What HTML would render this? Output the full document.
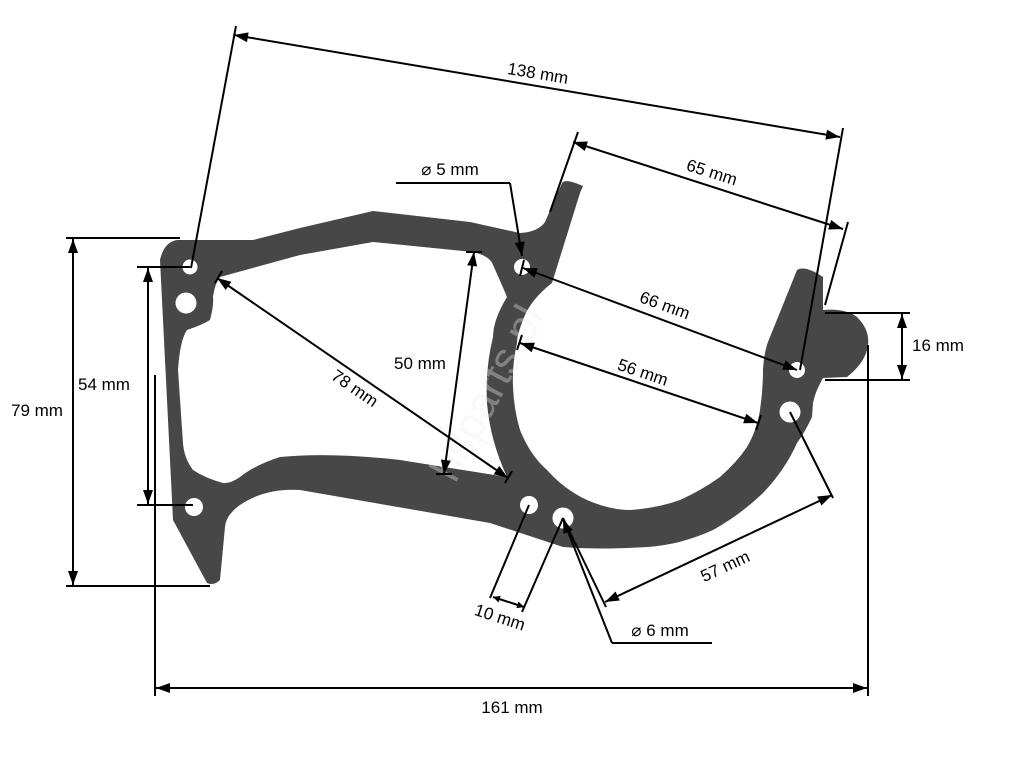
<!DOCTYPE html>
<html><head><meta charset="utf-8"><style>
html,body{margin:0;padding:0;background:#fff;}
svg{display:block;}
text{font-family:"Liberation Sans",sans-serif;font-size:17px;fill:#000;}
</style></head><body>
<svg width="1024" height="768" viewBox="0 0 1024 768" xmlns="http://www.w3.org/2000/svg">
<defs>
<marker id="a" viewBox="0 0 10 10" refX="10" refY="5" markerWidth="7" markerHeight="7" orient="auto-start-reverse" markerUnits="userSpaceOnUse">
<path d="M0,0 L10,5 L0,10 z" fill="#000"/></marker>
<marker id="b" viewBox="0 0 14 10" refX="14" refY="5" markerWidth="16" markerHeight="10" orient="auto-start-reverse" markerUnits="userSpaceOnUse">
<path d="M0,0 L14,5 L0,10 z" fill="#000"/></marker>
</defs>
<path fill="#474747" fill-rule="evenodd" d="
M177,240 L253,240 L300,228 L373,211 L470,222 L520,233 Q538,232 545,222 L562,183 Q565,178 583,186 L580,193 L552,283
Q530,300 523,320 Q517,335 517,343 Q512,365 513,387 Q514,410 520,430 Q530,455 547,470 Q565,490 587,500 Q610,510 630,510 Q658,508 680,500 Q702,490 720,477 Q737,462 747,447 Q757,430 760,410 Q763,390 763,370 Q764,350 770,337 L797,270 Q805,265 823,277 L823,310 Q845,308 857,317 Q870,330 868,345 Q866,362 847,377 L823,378 Q815,392 813,403 L812,417 Q805,432 797,443 Q785,470 763,493 Q740,515 713,530 Q680,545 647,547 Q600,550 563,547 L490,523 L300,490 Q265,488 240,505 Q226,515 225,527 L220,580 Q214,586 207,583 L173,520 L160,260 Q164,242 177,240 Z
M220,277 L300,255 L373,242 L473,252 Q490,256 493,265 Q502,285 507,297 Q493,320 493,337 Q485,370 487,403 Q490,440 507,477 L400,460 Q330,452 280,457 Q255,465 240,477 Q230,484 223,483 Q205,478 193,470 Q184,458 183,443 L178,370 Q180,340 187,330 Q202,325 210,320 Q214,305 213,297 Q215,283 220,277 Z"/>
<g fill="#fff">
<circle cx="190" cy="267" r="7.5"/><circle cx="186" cy="303" r="10.5"/><circle cx="194" cy="507" r="9"/>
<circle cx="522" cy="267" r="8"/><circle cx="529" cy="505" r="9"/><circle cx="563" cy="518" r="10.5"/>
<circle cx="797" cy="370" r="8"/><circle cx="790" cy="412" r="10.5"/>
</g>
<text x="500" y="400" transform="rotate(-62 500 400)" style="font-size:44px;fill:#eeeeee;opacity:0.35" text-anchor="middle">hsparts.pl</text>
<g stroke="#000" stroke-width="2" fill="none">
<line x1="236" y1="26" x2="191" y2="268"/><line x1="843" y1="128" x2="800" y2="370"/>
<line x1="234" y1="35" x2="840" y2="137" marker-start="url(#b)" marker-end="url(#b)"/>
<line x1="578" y1="132" x2="550" y2="212"/><line x1="848" y1="222" x2="825" y2="305"/>
<line x1="573" y1="142" x2="843" y2="229" marker-start="url(#b)" marker-end="url(#b)"/>
<line x1="523" y1="268" x2="797" y2="370" marker-start="url(#b)" marker-end="url(#b)"/>
<line x1="524" y1="260" x2="520" y2="276"/>
<line x1="520" y1="343" x2="758" y2="423" marker-start="url(#b)" marker-end="url(#b)"/>
<line x1="522" y1="335" x2="517" y2="350"/><line x1="761" y1="415" x2="756" y2="430"/>
<line x1="217" y1="278" x2="508" y2="478" marker-start="url(#b)" marker-end="url(#b)"/>
<line x1="222" y1="271" x2="215" y2="283"/><line x1="512" y1="471" x2="505" y2="483"/>
<line x1="474" y1="252" x2="444" y2="474" marker-start="url(#b)" marker-end="url(#b)"/>
<line x1="466" y1="252" x2="482" y2="252"/><line x1="436" y1="474" x2="452" y2="474"/>
<line x1="66" y1="238" x2="180" y2="238"/><line x1="66" y1="586" x2="210" y2="586"/>
<line x1="73" y1="239" x2="73" y2="585" marker-start="url(#b)" marker-end="url(#b)"/>
<line x1="137" y1="267" x2="190" y2="267"/><line x1="137" y1="505" x2="193" y2="505"/>
<line x1="148" y1="268" x2="148" y2="504" marker-start="url(#b)" marker-end="url(#b)"/>
<line x1="155" y1="375" x2="155" y2="696"/><line x1="868" y1="345" x2="868" y2="696"/>
<line x1="156" y1="688" x2="867" y2="688" marker-start="url(#b)" marker-end="url(#b)"/>
<line x1="825" y1="313" x2="910" y2="313"/><line x1="825" y1="380" x2="910" y2="380"/>
<line x1="902" y1="314" x2="902" y2="379" marker-start="url(#b)" marker-end="url(#b)"/>
<line x1="790" y1="412" x2="833" y2="498"/><line x1="563" y1="518" x2="606" y2="607"/>
<line x1="605" y1="602" x2="832" y2="495" marker-start="url(#b)" marker-end="url(#b)"/>
<line x1="529" y1="505" x2="490" y2="598"/><line x1="563" y1="518" x2="522" y2="612"/>
<line x1="493" y1="597" x2="524" y2="607" marker-start="url(#a)" marker-end="url(#a)"/>
<line x1="712" y1="643" x2="612" y2="643"/>
<line x1="612" y1="643" x2="563" y2="519" marker-end="url(#b)"/>
<line x1="396" y1="183" x2="510" y2="183"/>
<line x1="510" y1="183" x2="522" y2="256" marker-end="url(#b)"/>
</g>
<text x="538" y="79" text-anchor="middle" transform="rotate(9.5 538 73)">138 mm</text>
<text x="712" y="178" text-anchor="middle" transform="rotate(17.6 712 172)">65 mm</text>
<text x="665" y="311" text-anchor="middle" transform="rotate(20 665 305)">66 mm</text>
<text x="643" y="378" text-anchor="middle" transform="rotate(18.6 643 372)">56 mm</text>
<text x="355" y="394" text-anchor="middle" transform="rotate(34.5 355 388)">78 mm</text>
<text x="420" y="369" text-anchor="middle">50 mm</text>
<text x="37" y="416" text-anchor="middle">79 mm</text>
<text x="104" y="390" text-anchor="middle">54 mm</text>
<text x="512" y="713" text-anchor="middle">161 mm</text>
<text x="938" y="351" text-anchor="middle">16 mm</text>
<text x="725" y="572" text-anchor="middle" transform="rotate(-25 725 566)">57 mm</text>
<text x="500" y="623" text-anchor="middle" transform="rotate(18 500 617)">10 mm</text>
<text x="660" y="636" text-anchor="middle">⌀ 6 mm</text>
<text x="450" y="175" text-anchor="middle">⌀ 5 mm</text>
</svg>
</body></html>
